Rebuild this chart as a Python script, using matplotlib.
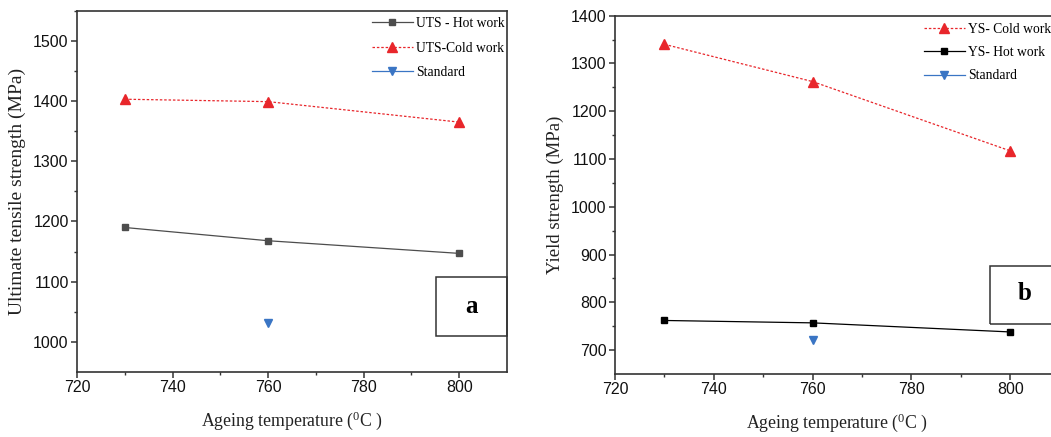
import matplotlib.pyplot as plt
from matplotlib.patches import Rectangle

# data
temps = [730, 760, 800]
uts_hot = [1190, 1168, 1147]
uts_cold = [1403, 1399, 1365]
ys_cold = [1340, 1262, 1117]
ys_hot = [762, 757, 738]
std_temp = [760]
uts_std = [1032]
ys_std = [722]

xticks = [720, 740, 760, 780, 800]
uts_ticks = [1000, 1100, 1200, 1300, 1400, 1500]
ys_ticks = [700, 800, 900, 1000, 1100, 1200, 1300, 1400]

plt.rcParams['mathtext.fontset'] = 'custom'
plt.rcParams['mathtext.rm'] = 'Liberation Serif'

serif = 'Liberation Serif'
sans = 'Liberation Sans'
red = '#e8262b'
blue = '#3a75c4'
spine_c = '#333333'

fig = plt.figure(figsize=(10.51, 4.37), dpi=100)
ax1 = fig.add_axes([0.0733, 0.1487, 0.4091, 0.8268])
ax2 = fig.add_axes([0.5852, 0.1442, 0.4230, 0.8200])


def style(ax, ylim, yticks, ylabel, ysize):
    ax.set_xlim(720, 810)
    ax.set_xticks(xticks)
    ax.set_xticks(range(730, 810, 20), minor=True)
    ax.set_yticks(yticks)
    ax.set_yticks([t + 50 for t in yticks], minor=True)
    ax.set_ylim(*ylim)
    ax.tick_params(which='major', direction='out', length=4, width=1.1,
                   color=spine_c, labelsize=11.5, pad=2)
    ax.tick_params(which='minor', direction='out', length=2.5, width=1.0,
                   color=spine_c)
    for lab in ax.get_xticklabels() + ax.get_yticklabels():
        lab.set_fontfamily(sans)
        lab.set_color('#111111')
    for s in ax.spines.values():
        s.set_linewidth(1.2)
        s.set_color(spine_c)
    ax.set_xlabel(r'Ageing temperature ($\mathregular{^0}$C )', family=serif,
                  fontsize=12.8, color='#222222', labelpad=10)
    ax.set_ylabel(ylabel, family=serif, fontsize=ysize, color='#222222',
                  labelpad=5)


# panel a
ax1.plot(temps, uts_hot, color='#4d4d4d', lw=0.9, marker='s', ms=5,
         label='UTS - Hot work')
ax1.plot(temps, uts_cold, color=red, lw=0.9, ls=(0, (2, 1.5)), marker='^',
         ms=6.5, label='UTS-Cold work')
ax1.plot(std_temp, uts_std, color=blue, lw=0.9, marker='v', ms=6,
         label='Standard')
style(ax1, (950, 1550), uts_ticks, 'Ultimate tensile strength (MPa)', 14.0)
ax1.add_patch(Rectangle((0.835, 0.099), 0.165, 0.163, transform=ax1.transAxes,
                        fill=False, lw=1.1, ec=spine_c, clip_on=False))
ax1.text(0.9175, 0.18, 'a', transform=ax1.transAxes, family=serif,
         fontweight='bold', fontsize=18, ha='center', va='center')
ax1.legend(loc='upper left', bbox_to_anchor=(372 / 1051, 1 - 17 / 437),
           bbox_transform=fig.transFigure, frameon=False, borderpad=0,
           borderaxespad=0, handlelength=3.0, handletextpad=0.25,
           labelspacing=0.85, prop={'family': serif, 'size': 9.8})

# panel b
ax2.plot(temps, ys_cold, color=red, lw=0.9, ls=(0, (2, 1.5)), marker='^',
         ms=6.5, label='YS- Cold work')
ax2.plot(temps, ys_hot, color='black', lw=0.9, marker='s', ms=5,
         label='YS- Hot work')
ax2.plot(std_temp, ys_std, color=blue, lw=0.9, marker='v', ms=6,
         label='Standard')
style(ax2, (650, 1400), ys_ticks, 'Yield strength (MPa)', 13.5)
ax2.add_patch(Rectangle((0.843, 0.14), 0.157, 0.162, transform=ax2.transAxes,
                        fill=False, lw=1.1, ec=spine_c, clip_on=False))
ax2.text(0.9215, 0.225, 'b', transform=ax2.transAxes, family=serif,
         fontweight='bold', fontsize=18, ha='center', va='center')
ax2.legend(loc='upper left', bbox_to_anchor=(924 / 1051, 1 - 23 / 437),
           bbox_transform=fig.transFigure, frameon=False, borderpad=0,
           borderaxespad=0, handlelength=3.0, handletextpad=0.25,
           labelspacing=0.75, prop={'family': serif, 'size': 9.8})

fig.savefig('out.png', dpi=100, facecolor='white')
